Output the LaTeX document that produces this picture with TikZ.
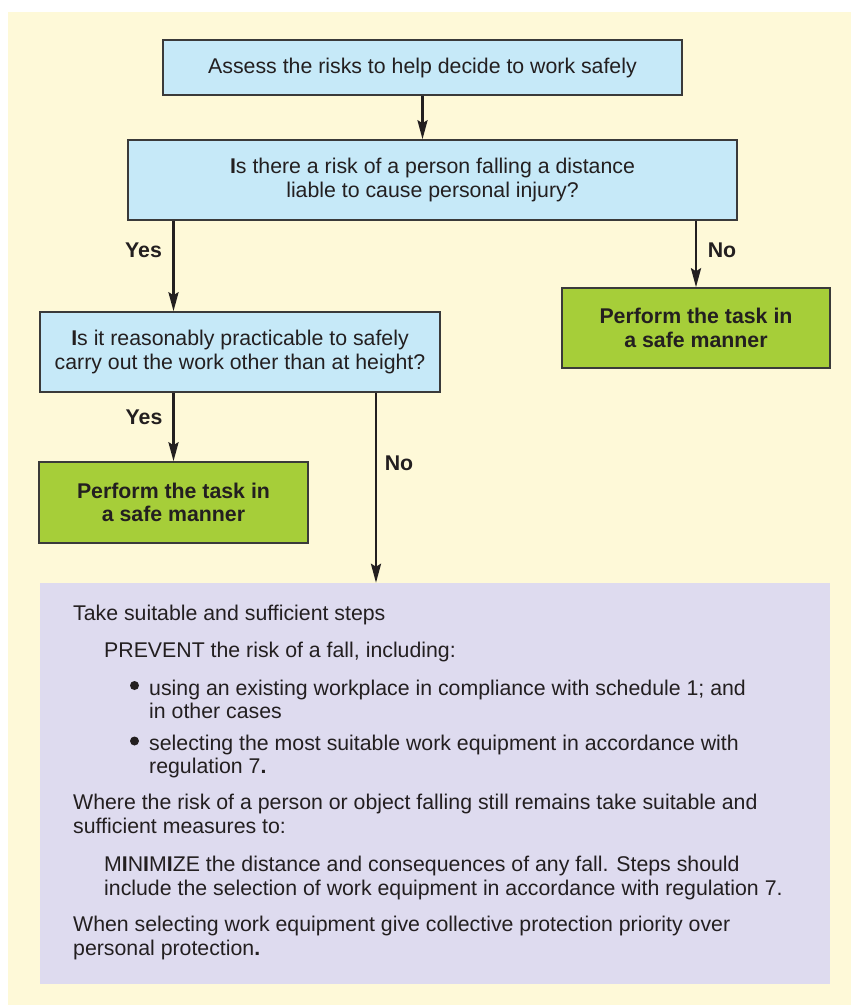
\documentclass[tikz,border=0pt]{standalone}
\usepackage{fontspec}
\setmainfont{Liberation Sans}
\usetikzlibrary{arrows.meta}
\definecolor{paper}{HTML}{FEF9D8}
\definecolor{qblue}{HTML}{C6E9F8}
\definecolor{okgreen}{HTML}{A6CE39}
\definecolor{lilac}{HTML}{DEDBEF}
\definecolor{ink}{HTML}{231F20}
\definecolor{edge}{HTML}{3A3A3A}
\tikzset{
  txt/.style={font=\fontsize{21.3}{23.7}\selectfont, text=ink},
  boldtxt/.style={font=\fontsize{21.3}{23.7}\selectfont\bfseries, text=ink},
  qbox/.style={txt, draw=edge, line width=1.5pt, fill=qblue, align=center, inner sep=0pt},
  okbox/.style={boldtxt, draw=edge, line width=1.5pt, fill=okgreen, align=center, inner sep=0pt},
  flow/.style={draw=ink, line width=2.8pt, -{Stealth[length=19pt, width=10pt, inset=3pt]}},
  answer/.style={boldtxt, inner sep=0pt},
  para/.style={txt, anchor=base west, align=left, inner sep=0pt},
  dot/.style={fill=ink, circle, minimum size=9pt, inner sep=0pt}
}
\begin{document}
\begin{tikzpicture}[x=1pt, y=-1pt]
  % canvas and page colour
  \useasboundingbox (0,0) rectangle (851,1005);
  \fill[white] (0,0) rectangle (851,1005);
  \fill[paper] (8,12) rectangle (851,1005);

  % lower panel with the measures to take
  \node[fill=lilac, minimum width=790pt, minimum height=401pt, inner sep=0pt] (steps) at (435,783.5) {};

  % decision boxes
  \node[qbox, minimum width=519pt, minimum height=55pt] (assess) at (422.5,67.5)
    {Assess the risks to help decide to work safely};
  \node[qbox, minimum width=609pt, minimum height=80pt] (q1) at (432.5,180)
    {\textbf{I}s there a risk of a person falling a distance\\liable to cause personal injury?};
  \node[qbox, minimum width=400pt, minimum height=80pt] (q2) at (240,352)
    {\textbf{I}s it reasonably practicable to safely\\carry out the work other than at height?};
  \node[okbox, minimum width=268pt, minimum height=80pt] (okr) at (696,328)
    {Perform the task in\\a safe manner};
  \node[okbox, minimum width=269pt, minimum height=81pt] (okl) at (173.5,502.5)
    {Perform the task in\\a safe manner};

  % connectors
  \coordinate (nox) at (376,0);
  \draw[flow] (assess.south) -- (assess.south |- q1.north);
  \draw[flow] (q1.south -| okl.north) -- (q2.north -| okl.north);
  \draw[flow] (q1.south -| okr.north) -- (okr.north);
  \draw[flow] (q2.south -| okl.north) -- (okl.north);
  \draw[flow] (q2.south -| nox) -- (steps.north -| nox);

  % branch labels
  \node[answer] (yes1) at (143.5,250) {Yes};
  \node[answer] (no1) at (722,250) {No};
  \node[answer] (yes2) at (144,417) {Yes};
  \node[answer] (no2) at (399,463) {No};

  % text of the lower panel (multi-line nodes sit on their last baseline)
  \node[para] (p1) at (73,620) {Take suitable and sufficient steps};
  \node[para] (p2) at (104,657) {PREVENT the risk of a fall, including:};
  \node[dot] (d1) at (134.5,685.5) {};
  \node[para] (b1) at (149,718.7) {using an existing workplace in compliance with schedule 1; and\\in other cases};
  \node[dot] (d2) at (134.5,741) {};
  \node[para] (b2) at (149,773.7) {selecting the most suitable work equipment in accordance with\\regulation 7\textbf{.}};
  \node[para] (p3) at (73,833.5) {Where the risk of a person or object falling still remains take suitable and\\sufficient measures to:};
  \node[para] (p4) at (104,895.5) {M\textbf{I}N\textbf{I}M\textbf{I}ZE the distance and consequences of any fall. Steps should\\include the selection of work equipment in accordance with regulation 7.};
  \node[para] (p5) at (73,955.5) {When selecting work equipment give collective protection priority over\\personal protection\textbf{.}};
\end{tikzpicture}
\end{document}
